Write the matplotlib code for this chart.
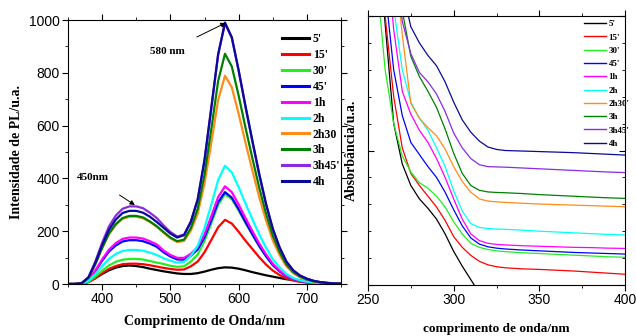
import numpy as np
import matplotlib
matplotlib.use("Agg")
import matplotlib.pyplot as plt
from matplotlib.ticker import MultipleLocator, NullFormatter

nan = np.nan
labels_pl = ["5'", "15'", "30'", "45'", "1h", "2h", "2h30", "3h", "3h45'", "4h"]
labels_abs = ["5'", "15'", "30'", "45'", "1h", "2h", "2h30'", "3h", "3h45'", "4h"]
colors = ["#000000", "#ff0000", "#22ee22", "#0000ff", "#ff00ff", "#00ffff",
          "#ff8c1a", "#008000", "#8a2be2", "#0a0a9a"]

# ---- PL spectra ----
wl = list(range(350, 751, 10))
pl_5m = [0,0,1,8,22,38,52,62,68,70,68,64,58,53,48,44,40,38,38,41,47,54,60,63,62,58,52,45,39,33,28,23,18,15,13,10,8,6,4,3,2]
pl_15m = [0,0,1,7,22,41,57,68,75,77,77,75,71,66,61,57,54,55,67,85,120,167,215,243,229,198,164,133,102,74,51,34,21,13,8,5,3,2,1,0,0]
pl_30m = [0,0,1,9,28,50,70,84,92,95,95,93,87,81,76,69,65,67,85,112,163,230,300,340,321,279,231,187,143,105,72,48,29,18,11,7,4,2,1,1,0]
pl_45m = [0,0,2,15,48,88,123,146,161,166,166,162,153,141,120,104,93,92,107,131,177,241,310,348,327,283,235,189,145,106,72,48,29,18,11,7,4,2,1,1,0]
pl_1h = [0,0,2,16,51,93,130,155,171,176,176,172,162,150,127,110,99,99,114,140,188,257,329,370,348,301,250,201,154,113,77,51,31,19,12,7,4,3,1,1,0]
pl_2h = [0,0,1,12,37,68,95,114,125,129,129,126,119,110,98,88,81,84,106,145,212,301,394,448,423,367,305,246,189,138,94,63,38,23,14,9,5,3,2,1,0]
pl_2h30 = [0,0,3,23,74,135,189,224,247,255,255,249,235,217,194,173,159,163,202,266,380,535,697,789,745,645,536,432,331,242,166,110,67,41,25,16,9,6,3,2,1]
pl_3h = [0,0,3,23,75,137,191,227,250,258,258,252,237,219,197,176,162,168,212,285,414,588,769,872,824,714,593,478,367,268,184,122,74,45,28,17,10,6,3,2,1]
pl_3h45 = [0,0,3,26,85,156,218,259,285,294,294,287,270,250,222,197,180,187,237,320,466,664,869,987,932,808,671,541,415,304,208,138,84,51,32,20,12,7,4,2,1]
pl_4h = [0,0,3,25,80,147,205,244,269,277,277,270,255,235,213,191,176,185,235,320,470,670,870,990,935,810,675,545,420,305,210,139,85,52,32,20,12,7,4,2,1]
pl_series = [pl_5m, pl_15m, pl_30m, pl_45m, pl_1h, pl_2h, pl_2h30, pl_3h, pl_3h45, pl_4h]

# ---- Absorbance spectra ----
abs_wl = [255,260,265,270,275,280,285,290,295,300,305,310,315,320,325,330,340,350,360,370,380,390,400]
ab_5m = [1.35,0.97,0.6,0.45,0.37,0.32,0.285,0.245,0.19,0.125,0.07,0.02,-0.03,-0.08,nan,nan,nan,nan,nan,nan,nan,nan,nan]
ab_15m = [1.4,1.0,0.7,0.51,0.415,0.37,0.33,0.29,0.24,0.18,0.14,0.11,0.088,0.075,0.068,0.064,0.06,0.058,0.055,0.052,0.048,0.044,0.04]
ab_30m = [1.15,0.8,0.6,0.48,0.42,0.38,0.36,0.33,0.29,0.235,0.19,0.155,0.14,0.132,0.127,0.124,0.12,0.117,0.114,0.111,0.108,0.105,0.103]
ab_45m = [1.5,1.1,0.8,0.63,0.53,0.485,0.44,0.4,0.345,0.28,0.22,0.175,0.152,0.142,0.137,0.134,0.13,0.127,0.124,0.121,0.119,0.117,0.115]
ab_1h = [1.6,1.3,0.95,0.72,0.635,0.575,0.53,0.47,0.4,0.32,0.245,0.19,0.165,0.155,0.151,0.149,0.146,0.144,0.142,0.14,0.139,0.137,0.136]
ab_2h = [2.0,1.5,1.03,0.8,0.68,0.62,0.575,0.51,0.44,0.35,0.275,0.228,0.214,0.21,0.208,0.207,0.204,0.2,0.197,0.194,0.191,0.188,0.186]
ab_2h30 = [2.0,1.6,1.25,0.93,0.675,0.62,0.585,0.555,0.505,0.44,0.385,0.345,0.32,0.312,0.309,0.307,0.304,0.301,0.299,0.297,0.295,0.293,0.291]
ab_3h = [2.1,1.7,1.3,1.02,0.85,0.775,0.72,0.66,0.58,0.49,0.415,0.37,0.352,0.346,0.344,0.343,0.34,0.336,0.333,0.33,0.327,0.324,0.322]
ab_3h45 = [2.1,1.7,1.3,0.98,0.86,0.79,0.755,0.71,0.645,0.565,0.51,0.47,0.447,0.44,0.439,0.438,0.435,0.432,0.429,0.426,0.423,0.42,0.418]
ab_4h = [2.2,1.8,1.4,1.1,0.96,0.9,0.853,0.815,0.755,0.68,0.614,0.568,0.535,0.513,0.504,0.5,0.498,0.496,0.494,0.492,0.489,0.486,0.483]
abs_series = [ab_5m, ab_15m, ab_30m, ab_45m, ab_1h, ab_2h, ab_2h30, ab_3h, ab_3h45, ab_4h]

SERIF = ["Liberation Serif", "DejaVu Serif"]
SANS = ["Liberation Sans", "DejaVu Sans"]

fig = plt.figure(figsize=(6.36, 3.36), dpi=100)
W, H = 636, 336

def ax_at(l, t, r, b):
    return fig.add_axes([l / W, 1 - b / H, (r - l) / W, (b - t) / H])

# ---------- Left: PL ----------
ax1 = ax_at(68, 20, 341, 284)
for y, c, lab in zip(pl_series, colors, labels_pl):
    ax1.plot(wl, y, color=c, lw=1.6, label=lab)
ax1.set_xlim(350, 750)
ax1.set_ylim(0, 1000)
ax1.xaxis.set_major_locator(MultipleLocator(100))
ax1.xaxis.set_minor_locator(MultipleLocator(50))
ax1.yaxis.set_major_locator(MultipleLocator(200))
ax1.yaxis.set_minor_locator(MultipleLocator(100))
ax1.tick_params(which="both", direction="out", top=True, right=True,
                labelsize=10, pad=2)
ax1.tick_params(which="major", length=4, width=0.8)
ax1.tick_params(which="minor", length=2.5, width=0.6)
for lab in ax1.get_xticklabels() + ax1.get_yticklabels():
    lab.set_family(SANS)
ax1.set_xlabel("Comprimento de Onda/nm", family=SERIF, weight="bold",
               fontsize=10, labelpad=6)
ax1.set_ylabel("Intensidade de PL/u.a.", family=SERIF, weight="bold",
               fontsize=10, labelpad=4)
leg1 = ax1.legend(loc="upper left", bbox_to_anchor=(0.785, 0.95), frameon=False,
                  prop={"family": SERIF, "weight": "bold", "size": 8.5},
                  handlelength=2.3, handletextpad=0.3, labelspacing=0.33,
                  borderaxespad=0.0, borderpad=0.0)
for h in leg1.get_lines():
    h.set_linewidth(2.2)
ax1.annotate("580 nm", xy=(581, 989), xytext=(495, 880),
             fontsize=8, family=SERIF, weight="bold", ha="center", va="center",
             arrowprops=dict(arrowstyle="-|>", color="black", lw=0.7,
                             shrinkA=12, shrinkB=0, mutation_scale=7))
ax1.annotate("450nm", xy=(448, 299), xytext=(387, 402),
             fontsize=8, family=SERIF, weight="bold", ha="center", va="center",
             arrowprops=dict(arrowstyle="-|>", color="black", lw=0.7,
                             shrinkA=13, shrinkB=0, mutation_scale=7))

# ---------- Right: absorbance ----------
ax2 = ax_at(368, 16, 625, 285)
for y, c, lab in zip(abs_series, colors, labels_abs):
    ax2.plot(abs_wl, y, color=c, lw=0.9, label=lab)
ax2.set_xlim(250, 400)
ax2.set_ylim(0, 1.0)
ax2.xaxis.set_major_locator(MultipleLocator(50))
ax2.xaxis.set_minor_locator(MultipleLocator(25))
ax2.yaxis.set_major_locator(MultipleLocator(0.5))
ax2.yaxis.set_minor_locator(MultipleLocator(0.1))
ax2.yaxis.set_major_formatter(NullFormatter())
ax2.tick_params(axis="x", which="both", direction="out", top=True, labelsize=10, pad=2)
ax2.tick_params(axis="y", which="both", direction="in", right=True)
ax2.tick_params(which="major", length=4, width=0.8)
ax2.tick_params(which="minor", length=2.5, width=0.6)
for lab in ax2.get_xticklabels():
    lab.set_family(SANS)
ax2.set_xlabel("comprimento de onda/nm", family=SERIF, weight="bold",
               fontsize=9.5, labelpad=11)
ax2.set_ylabel("Absorbância/u.a.", family=SERIF, weight="bold",
               fontsize=10, labelpad=4)
leg2 = ax2.legend(loc="upper left", bbox_to_anchor=(0.84, 0.985), frameon=False,
                  prop={"family": SERIF, "weight": "bold", "size": 6.5},
                  handlelength=2.5, handletextpad=0.25, labelspacing=0.55,
                  borderaxespad=0.0, borderpad=0.0)
for h in leg2.get_lines():
    h.set_linewidth(1.0)

fig.savefig("out.png", dpi=100)
